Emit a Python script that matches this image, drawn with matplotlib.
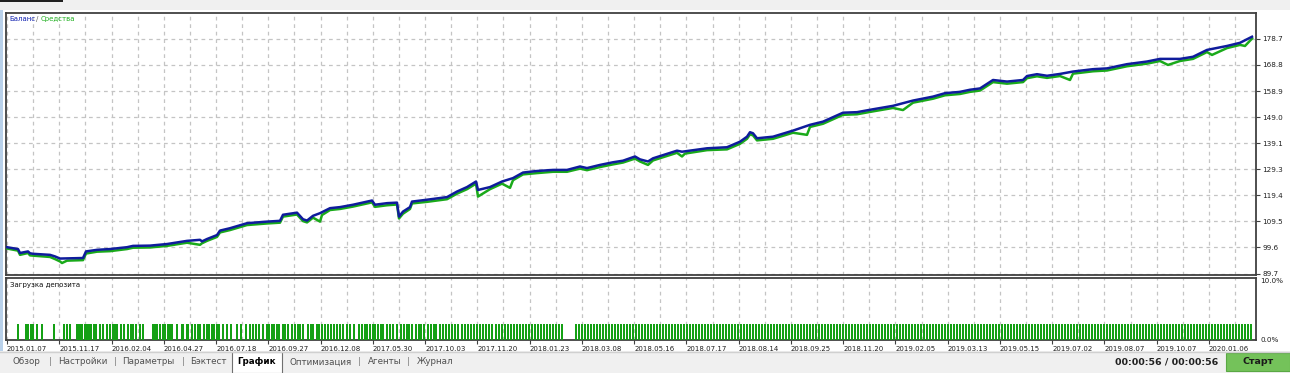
import matplotlib
matplotlib.use("Agg")
import matplotlib.pyplot as plt
from matplotlib.patches import Rectangle

# ---------------- data ----------------
# x position along the test (chart index units, 0 = start of test)
balance_x = [0, 11, 13, 21, 23, 26, 43, 48, 53, 76, 79, 90, 103, 120, 126, 143, 160, 180, 193, 195,
             200, 210, 213, 223, 240, 260, 273, 276, 290, 296, 300, 306, 313, 323, 333, 346, 365, 368,
             380, 390, 392, 396, 403, 405, 420, 440, 450, 460, 469, 471, 483, 495, 506, 516, 530, 546,
             560, 573, 580, 593, 606, 616, 628, 633, 641, 646, 670, 675, 700, 720, 733, 740, 743, 746,
             750, 766, 786, 803, 816, 836, 850, 866, 886, 906, 926, 938, 953, 963, 973, 986, 1000, 1016,
             1020, 1030, 1040, 1053, 1066, 1086, 1100, 1120, 1140, 1153, 1173, 1186, 1200, 1220, 1233, 1245]
balance = [99.7, 99.0, 97.5, 98.1, 97.4, 97.2, 96.8, 96.2, 95.4, 95.6, 98.1, 98.7, 99.0, 99.7, 100.2,
           100.3, 100.9, 102.1, 102.5, 101.9, 102.8, 104.3, 106.0, 106.9, 108.8, 109.4, 109.7, 112.0,
           112.8, 110.3, 109.8, 111.6, 112.6, 114.5, 114.9, 115.8, 117.4, 115.8, 116.4, 116.6, 111.3,
           113.2, 114.9, 117.0, 117.7, 118.7, 120.8, 122.5, 124.6, 121.4, 122.5, 124.6, 125.9, 128.0,
           128.6, 129.0, 129.0, 130.3, 129.7, 130.9, 131.9, 132.5, 134.1, 133.0, 132.2, 133.4, 136.3,
           135.9, 137.2, 137.6, 139.7, 141.6, 143.3, 142.9, 141.0, 141.6, 143.9, 146.1, 147.3, 150.7,
           150.9, 152.0, 153.3, 155.3, 156.8, 158.1, 158.6, 159.4, 159.9, 163.1, 162.5, 163.1, 164.6,
           165.3, 164.7, 165.4, 166.3, 167.2, 167.5, 169.1, 170.1, 171.1, 171.1, 171.9, 174.5, 176.0,
           177.2, 179.5]

equity_x = [0, 11, 13, 21, 23, 26, 43, 48, 53, 55, 60, 76, 79, 90, 103, 120, 126, 143, 160, 180, 193,
            195, 200, 210, 213, 223, 240, 260, 273, 276, 290, 296, 300, 306, 313, 315, 323, 333, 346,
            365, 368, 380, 390, 392, 396, 403, 405, 420, 440, 450, 460, 469, 471, 483, 495, 503, 506,
            516, 530, 546, 560, 573, 580, 593, 606, 616, 628, 633, 641, 646, 670, 675, 678, 700, 720,
            733, 740, 743, 746, 750, 766, 786, 800, 803, 816, 836, 850, 866, 886, 896, 906, 926, 938,
            953, 963, 973, 986, 1000, 1016, 1020, 1030, 1040, 1053, 1063, 1066, 1086, 1100, 1120, 1140,
            1153, 1161, 1173, 1186, 1200, 1205, 1220, 1233, 1238, 1245]
equity = [99.2, 98.4, 96.8, 97.5, 96.6, 96.5, 96.0, 95.2, 94.3, 93.7, 94.6, 94.8, 97.3, 98.0, 98.2,
          99.0, 99.5, 99.6, 100.2, 101.4, 100.6, 101.2, 102.1, 103.6, 105.3, 106.2, 108.1, 108.7, 109.0,
          111.3, 112.1, 109.6, 109.1, 110.9, 109.4, 111.9, 113.8, 114.2, 115.1, 116.7, 115.0, 115.6,
          115.9, 110.6, 112.4, 114.2, 116.3, 116.9, 117.9, 120.0, 121.7, 123.8, 118.9, 121.7, 123.8,
          122.2, 125.1, 127.3, 127.8, 128.3, 128.3, 129.5, 128.9, 130.1, 131.1, 131.8, 133.3, 132.2,
          130.9, 132.6, 135.5, 134.1, 135.2, 136.5, 136.8, 138.9, 140.8, 142.5, 142.1, 140.2, 140.8,
          143.1, 142.3, 145.3, 146.5, 149.9, 150.1, 151.2, 152.5, 151.7, 154.5, 156.0, 157.3, 157.8,
          158.6, 159.1, 162.3, 161.7, 162.3, 163.8, 164.5, 163.9, 164.6, 163.1, 165.5, 166.4, 166.7,
          168.3, 169.3, 170.3, 168.8, 170.3, 171.1, 173.7, 172.6, 175.2, 176.4, 176.0, 178.8]

# deposit load bars (position, load %)
load_x = [11, 19, 21, 24, 26, 30, 35, 47, 57, 60, 63, 70, 72, 74, 75, 78, 80, 82, 84, 87, 89, 93, 96,
          100, 103, 106, 108, 110, 114, 117, 121, 124, 126, 129, 133, 136, 146, 148, 150, 153, 156, 158,
          161, 163, 165, 170, 175, 176, 180, 181, 185, 188, 191, 193, 197, 200, 202, 205, 207, 210, 212,
          216, 220, 224, 230, 234, 239, 243, 246, 249, 252, 256, 260, 262, 265, 267, 270, 272, 276, 278,
          281, 285, 288, 291, 293, 296, 301, 304, 306, 310, 312, 315, 318, 321, 324, 327, 330, 333, 336,
          340, 343, 347, 352, 355, 358, 360, 363, 366, 368, 371, 374, 376, 380, 383, 386, 390,
          394, 397, 400, 402, 405, 409, 412, 414, 417, 421, 424, 427, 429, 433, 436, 439, 442, 445, 448,
          451, 455, 458, 461, 464, 467, 470, 473, 476, 479, 482, 485, 489, 492, 495, 498, 501, 504, 507,
          510, 513, 516, 519, 522, 525, 528, 531, 534, 537, 540, 543, 546, 549, 552, 555,
          569, 572, 575, 578, 581, 584, 587, 590, 593, 596, 599, 602, 605, 608, 611, 614, 617, 620, 623,
          626, 629, 632, 635, 638, 641, 644, 647, 650, 653, 656, 659, 662, 665, 668, 671, 674, 677, 680,
          683, 686, 689, 692, 695, 698, 701, 704, 707, 710, 713, 716, 719, 722, 725, 728, 731, 734, 737,
          740, 743, 746, 749, 752, 755, 758, 761, 764, 767, 770, 773, 776, 779, 782, 785, 788, 791, 794,
          797, 800, 803, 806, 809, 812, 815, 818, 821, 824, 827, 830, 833, 836, 839, 842, 845, 848, 851,
          854, 857, 860, 863, 866, 869, 872, 875, 878, 881, 884, 887, 890, 893, 896, 899, 902, 905, 908,
          911, 914, 917, 920, 923, 926, 929, 932, 935, 938, 941, 944, 947, 950, 953, 956, 959, 962, 965,
          968, 971, 974, 977, 980, 983, 986, 989, 992, 995, 998, 1001, 1004, 1007, 1010, 1013, 1016,
          1019, 1022, 1025, 1028, 1031, 1034, 1037, 1040, 1043, 1046, 1049, 1052, 1055, 1058, 1061,
          1064, 1067, 1070, 1073, 1076, 1079, 1082, 1085, 1088, 1091, 1094, 1097, 1100, 1103, 1106,
          1109, 1112, 1115, 1118, 1121, 1124, 1127, 1130, 1133, 1136, 1139, 1142, 1145, 1148, 1151,
          1154, 1157, 1160, 1163, 1166, 1169, 1172, 1175, 1178, 1181, 1184, 1187, 1190, 1193, 1196,
          1199, 1202, 1205, 1208, 1211, 1214, 1217, 1220, 1223, 1226, 1229, 1232, 1235, 1238, 1241, 1244]
load_pct = 2.7

y_ticks = [89.7, 99.6, 109.5, 119.4, 129.3, 139.1, 149.0, 158.9, 168.8, 178.7]
date_labels = ["2015.01.07", "2015.11.17", "2016.02.04", "2016.04.27", "2016.07.18", "2016.09.27",
               "2016.12.08", "2017.05.30", "2017.10.03", "2017.11.20", "2018.01.23", "2018.03.08",
               "2018.05.16", "2018.07.17", "2018.08.14", "2018.09.25", "2018.11.20", "2019.02.05",
               "2019.03.13", "2019.05.15", "2019.07.02", "2019.08.07", "2019.10.07", "2020.01.06"]
tabs = ["Обзор", "Настройки", "Параметры", "Бэктест", "График", "Оптимизация", "Агенты", "Журнал"]

# ---------------- figure ----------------
W, H = 1290, 373
fig = plt.figure(figsize=(W / 100, H / 100), dpi=100)
fig.patch.set_facecolor('#f0f0f0')
FONT = 'DejaVu Sans'


def fx(px):
    return px / W


def fy(py):
    return 1 - py / H


# window background pieces
fig.patches.append(Rectangle((0, fy(351)), 1, fy(10) - fy(351), transform=fig.transFigure,
                             facecolor='white', edgecolor='none', zorder=-10))
fig.patches.append(Rectangle((0, fy(351)), fx(3), fy(10) - fy(351), transform=fig.transFigure,
                             facecolor='#b9d1ea', edgecolor='none', zorder=-9))
fig.patches.append(Rectangle((0, fy(2)), fx(63), fy(0) - fy(2), transform=fig.transFigure,
                             facecolor='#202020', edgecolor='none', zorder=-9))

GRID_STEP = 26.13
BAL_C = '#0f1c9c'
EQ_C = '#1aaa1a'
SPINE_C = '#404040'

# main panel
ax = fig.add_axes([fx(6), fy(274.5), fx(1250), (274.5 - 13) / H])
ax.set_zorder(5)
ax.set_facecolor('white')
ax.set_xlim(-1, 1249)
ax.set_ylim(89.35, 188.5)
for k in range(48):
    ax.axvline(k * GRID_STEP, color='#c4c4c4', lw=0.9, ls=(0, (3, 3)), zorder=1)
for v in y_ticks:
    ax.axhline(v, color='#c4c4c4', lw=0.9, ls=(0, (3, 3)), zorder=1)
ax.plot(equity_x, equity, color=EQ_C, lw=1.8, zorder=3)
ax.plot(balance_x, balance, color=BAL_C, lw=1.8, zorder=4)
ax.set_xticks([])
ax.set_yticks(y_ticks)
ax.set_yticklabels([f"{v:.1f}" for v in y_ticks], fontsize=5.2, family=FONT, color='#202020')
ax.tick_params(axis='y', left=False, labelleft=False, right=True, labelright=True,
               length=3, width=0.8, color='#404040', pad=1.5)
for s in ax.spines.values():
    s.set_color(SPINE_C)
    s.set_linewidth(1.3)

# legend text (placed in figure pixel positions, drawn with the axes)
ax.text(fx(9), fy(19), "Баланс", transform=fig.transFigure, color='#1020b0', fontsize=5,
        family=FONT, va='center', ha='left', zorder=6)
ax.text(fx(35.5), fy(19), "/", transform=fig.transFigure, color='#606060', fontsize=5,
        family=FONT, va='center', ha='left', zorder=6)
ax.text(fx(40.5), fy(19), "Средства", transform=fig.transFigure, color='#20b020', fontsize=5,
        family=FONT, va='center', ha='left', zorder=6)

# deposit load panel
ax2 = fig.add_axes([fx(6), fy(340), fx(1250), (340 - 278) / H])
ax2.set_zorder(5)
ax2.set_facecolor('white')
ax2.set_xlim(-1, 1249)
ax2.set_ylim(0, 10.5)
for k in range(48):
    ax2.axvline(k * GRID_STEP, color='#c4c4c4', lw=0.9, ls=(0, (3, 3)), zorder=1)
ax2.bar(load_x, [load_pct] * len(load_x), width=1.1, color='#14a014', zorder=3, linewidth=0)
ax2.set_yticks([0, 10])
ax2.set_yticklabels(["0.0%", "10.0%"], fontsize=5.2, family=FONT, color='#202020')
ax2.tick_params(axis='y', left=False, labelleft=False, right=True, labelright=True,
                length=0, pad=3)
ax2.set_xticks([k * 2 * GRID_STEP for k in range(len(date_labels))])
ax2.set_xticklabels(date_labels, fontsize=5, family=FONT, color='#202020', ha='left')
ax2.tick_params(axis='x', length=3, width=0.8, color='#404040', pad=1.5)
for s in ax2.spines.values():
    s.set_color(SPINE_C)
    s.set_linewidth(1.3)
ax2.text(0.003, 0.88, "Загрузка депозита", transform=ax2.transAxes, fontsize=5, family=FONT,
         color='#101010', va='center', ha='left')

# tab bar
fig.add_artist(plt.Line2D([0, 1], [fy(351.5), fy(351.5)], color='#d0d0d0', lw=1))
tab_cx = [26, 83, 148, 208, 257, 321, 385, 435]
sep_x = [50, 115, 183, 359, 408]
fig.patches.append(Rectangle((fx(232), 0), fx(50), fy(352) - 0, transform=fig.transFigure,
                             facecolor='white', edgecolor='#707070', lw=0.8, zorder=1))
for name, cx in zip(tabs, tab_cx):
    sel = name == "График"
    fig.text(fx(cx), fy(362), name, ha='center', va='center', fontsize=6.3, family=FONT,
             color='#000000' if sel else '#505050', fontweight='bold' if sel else 'normal')
for sx in sep_x:
    fig.text(fx(sx), fy(362), "|", ha='center', va='center', fontsize=6.5, family=FONT, color='#808080')

fig.text(fx(1218), fy(362), "00:00:56 / 00:00:56", ha='right', va='center', fontsize=6.8,
         family=FONT, fontweight='bold', color='#202020')
fig.patches.append(Rectangle((fx(1226), fy(371)), fx(64), fy(353) - fy(371), transform=fig.transFigure,
                             facecolor='#74c25a', edgecolor='#5aa844', lw=0.8, zorder=1))
fig.text(fx(1258), fy(362), "Старт", ha='center', va='center', fontsize=6.8, family=FONT,
         fontweight='bold', color='#1a1a1a')

fig.savefig("out.png", dpi=100, facecolor=fig.get_facecolor())
